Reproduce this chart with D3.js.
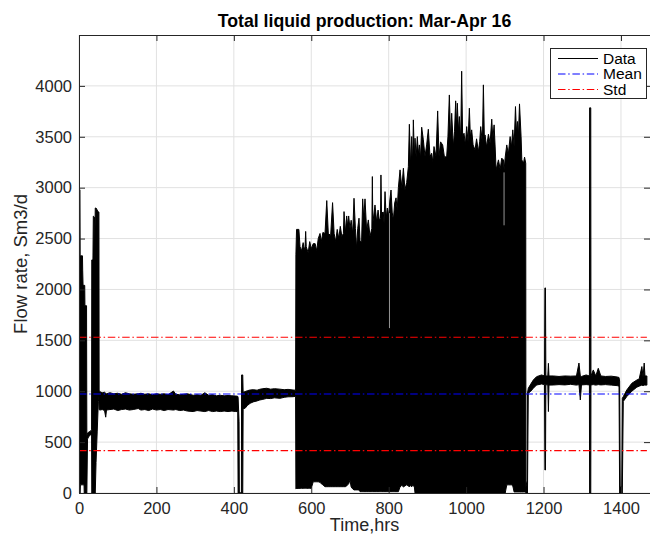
<!DOCTYPE html>
<html><head><meta charset="utf-8">
<script src="https://cdn.jsdelivr.net/npm/d3@7"></script>
<style>
body{margin:0;background:#fff;overflow:hidden}
svg{display:block}
text{font-family:"Liberation Sans",Arial,Helvetica,sans-serif}
</style>
</head><body>
<svg id="chart" width="650" height="534"></svg>
<script>
// ---------------- data ----------------
const xTicks = [0, 200, 400, 600, 800, 1000, 1200, 1400];
const yTicks = [0, 500, 1000, 1500, 2000, 2500, 3000, 3500, 4000];
const meanFlow = 973;
const stdLow = 416;
const stdHigh = 1530;
const lineHours = [0, 1467];
const legendLabels = ["Data", "Mean", "Std"];

// rows: [hour, min flow, max flow] envelope of the dense "Data" trace
const startup = [
  [0,0,2980],[1.5,0,2980],[2.5,0,2980],[3.0,0,2330],[3.6,80,2330],[9,80,2330],[9.5,80,2190],
  [10.5,80,2040],[13,80,2040],[13.5,0,2040],[14.8,0,2040],[15.3,0,1840],
  [19.5,0,1840],[20.3,0,560],[22,530,590],[26,560,600],[30,570,610],
  [32.5,580,620],[33,0,2290],[36,0,2290],[37,0,2720],[40,0,2710],[41,0,2490],
  [42,0,2800],[44,300,2800],[47,600,2780],[50,900,2760],[51.5,940,2760],
  [52,820,1010]
];
const steadyBand = [
  [54,815,995],[60,820,985],[66,810,990],[69,745,980],[71,815,975],[80,820,985],
  [90,825,975],[100,810,980],[110,820,970],[120,825,985],[130,815,975],
  [140,820,970],[153,830,975],[160,815,980],[170,820,970],[180,810,975],
  [190,825,965],[200,815,975],[210,820,970],[220,810,975],[230,820,965],
  [244,815,1002],[250,820,970],[260,810,965],[270,815,970],[280,805,975],
  [295,800,960],[305,810,965],[315,805,960],[325,800,985],[335,810,960],
  [345,800,965],[355,805,955],[365,800,960],[375,805,955],[385,800,958],
  [395,805,955],[405,800,953],[410,800,950],[411,0,940],[413.5,0,700],
  [414.2,0,0],[419.5,0,0],[420,0,1160],[423,0,1160],[424,830,990]
];
const recovery = [
  [429,832,996],[435,860,1005],[442,881,1012],[450,895,1015],[460,905,1010],
  [467,914,1019],[475,920,1025],[485,930,1029],[495,928,1020],[505,935,1025],
  [519,930,1020],[530,940,1015],[540,945,1018],[553,946,1012],[559.5,950,1010]
];
const slugging = [
  [560.3,40,2340],[562,45,2590],[568,45,2590],[571,46,2420],[575,46,2380],
  [579,46,2460],[582,46,2390],[584,46,2420],[585.5,46,2570],[587,46,2420],
  [592,46,2360],[596,46,2470],[600,46,2400],[605,110,2450],[610,110,2450],
  [614,110,2380],[618,110,2500],[622.6,105,2550],[626,90,2470],[630,80,2560],
  [635.5,62,2550],[640,62,2873],[644,62,2550],[650,62,2530],[655,62,2853],
  [659,62,2550],[663,62,2470],[667,62,2590],[671,62,2500],[675,62,2620],
  [679,62,2520],[683,62,2550],[684.6,62,2765],[688,62,2560],[691.5,70,2722],
  [694,80,2620],[696.6,90,2722],[700,127,2600],[703,60,2680],[707,40,2550],
  [710.4,30,2896],[714,30,2600],[717.3,30,2400],[720,30,2600],[723.3,30,2700],
  [726,13,2470],[730,13,2470],[732.8,13,2890],[735.5,13,2700],[738.8,13,2890],
  [743,13,2580],[747.4,13,2683],[751.7,13,2520],[756.5,13,2600],[757.8,13,3109],
  [759,13,2650],[764.6,13,2830],[769,13,2660],[772.5,13,2780],[775.8,13,2680],
  [778.8,13,2700],[780,13,3125],[781.5,13,2750],[786,13,2760],[788,13,2650],
  [790.5,13,2961],[793.5,13,2700],[796.5,13,2800],[800,13,2720],[803,13,2880],
  [806,13,2977],[809,13,2760],[812,13,2680],[815.5,13,2850],[819,13,2900],
  [822,13,2780],[825,13,3000],[829.3,60,3175],[834,75,3000],[838,60,3191],
  [842,70,2980],[846.5,80,3050],[850.8,70,3207],[853.4,60,3623],[856.8,75,3207],
  [859.4,60,3502],[862,80,3240],[863.7,70,3666],[866.3,60,3306],[868,0,3486],
  [871,0,3300],[874,0,3502],[876.5,0,3330],[879.2,0,3420],[882,0,3280],
  [885.2,0,3594],[889.5,0,3470],[893.8,0,3306],[898,0,3420],[902.4,0,3574],
  [906.7,0,3306],[911,0,3338],[914,0,3250],[917,0,3404],[922.2,0,3306],
  [926.5,0,3754],[930,0,3306],[934,0,3450],[939.4,0,3420],[944,0,3300],
  [949.8,0,3306],[953,0,3500],[956.7,0,3911],[960,0,3470],[962.7,0,3731],
  [967,0,3404],[970,0,3550],[973,0,3853],[975,0,3600],[977.3,0,3830],
  [980,0,3560],[982.5,0,3699],[986,0,3470],[988.5,0,4144],[991,0,3502],
  [994.6,0,3535],[998,0,3420],[1001.5,0,3600],[1005,0,3450],[1008.4,0,3781],
  [1011,0,3500],[1014.4,0,3568],[1018,0,3420],[1023,0,3371],[1027,0,3480],
  [1031.7,0,3355],[1035,0,3450],[1037.7,0,3600],[1042,0,3437],[1044.6,0,4010],
  [1047,0,3502],[1049,0,3518],[1053,0,3400],[1057.6,0,3525],[1062,0,3437],
  [1066.2,0,3673],[1069,0,3480],[1072.3,0,3617],[1075,0,3400],[1077.4,0,3175],
  [1083.5,0,3273],[1088,0,3180],[1092,0,3290],[1096.4,0,3273],[1098.2,0,3175],
  [1101,0,3300],[1105,80,3420],[1109,80,3330],[1113.7,80,3502],[1117,80,3400],
  [1120.6,70,3568],[1124,10,3404],[1127.5,10,3797],[1130,10,3550],
  [1132.7,10,3650],[1135,10,3500],[1137.9,10,3823],[1142,10,3502],
  [1143.9,10,3273],[1148.2,10,3240],[1151,10,3300],[1154,10,3240]
];
const restart = [
  [1154.5,0,60],[1157.5,0,120],[1158.5,0,980],[1160.6,980,1029],[1167,1000,1070],
  [1173.6,1029,1110],[1182,1061,1143],[1195,1071,1160],[1202.5,1065,1150],
  [1203.5,226,2015],[1205,226,2015],[1206,1065,1150],[1211,1060,1150],
  [1212.6,800,1274],[1214,1060,1150],[1225,1061,1150],[1240,1065,1145],
  [1255,1062,1150],[1270,1068,1148],[1285,1060,1150],[1291.5,1065,1277],
  [1295,914,1150],[1298,1062,1145],[1310,1065,1160],[1318.5,1062,1150],
  [1319,0,3784],[1322,0,3784],[1322.5,1062,1150],[1328.5,1065,1209],
  [1335,1060,1150],[1341.4,1065,1225],[1348,1062,1150],[1360,1065,1145],
  [1375,1060,1148],[1390,1055,1140],[1395,1050,1135],[1396.5,0,1100],
  [1398,0,60],[1402,0,60],[1403.5,0,930],[1406,900,947],[1415,947,1012],
  [1428,1000,1078],[1441,1040,1110],[1447,1050,1120],[1454,1060,1242],
  [1457,1055,1140],[1460,1060,1277],[1462,1060,1150],[1467,1060,1150]
];
// thin gaps (missing samples) visible as light slivers inside the dense block
const gapHours = [802, 1098];
const gapTop = [2750, 3150];
const gapBottom = [1620, 2630];

// ---------------- layout ----------------
const svg = d3.select("#chart");
const L = 79, R = 650, T = 35, B = 493;
const x = d3.scaleLinear().domain([0, 1475]).range([L, R]);
const y = d3.scaleLinear().domain([0, 4500]).range([B, T]);
const axisCol = "#262626";

svg.append("defs").append("clipPath").attr("id", "plotClip")
  .append("rect").attr("x", L).attr("y", T).attr("width", R - L).attr("height", B - T);

// grid
const grid = svg.append("g");
grid.selectAll(".gx").data(xTicks).join("line")
  .attr("x1", d => x(d)).attr("x2", d => x(d)).attr("y1", T).attr("y2", B)
  .attr("stroke", "#e1e1e1").attr("stroke-width", 1);
grid.selectAll(".gy").data(yTicks).join("line")
  .attr("y1", d => y(d)).attr("y2", d => y(d)).attr("x1", L).attr("x2", R)
  .attr("stroke", "#e1e1e1").attr("stroke-width", 1);

// data envelope
const rows = [].concat(startup, steadyBand, recovery, slugging, restart);
const area = d3.area().x(d => x(d[0])).y0(d => y(d[1])).y1(d => y(d[2]));
const plot = svg.append("g").attr("clip-path", "url(#plotClip)");
plot.append("path").datum(rows).attr("d", area)
  .attr("fill", "#000").attr("stroke", "#000").attr("stroke-width", 1)
  .attr("stroke-linejoin", "round");
plot.selectAll(".gap").data(gapHours).join("line")
  .attr("x1", d => x(d)).attr("x2", d => x(d))
  .attr("y1", (d, i) => y(gapTop[i])).attr("y2", (d, i) => y(gapBottom[i]))
  .attr("stroke", "#bbbbbb").attr("stroke-width", 0.8);

// mean and std lines
const dashDot = "7.5,2.7,1.5,2.7";
const hline = (v, col) => plot.append("line")
  .attr("x1", x(lineHours[0])).attr("x2", x(lineHours[1]))
  .attr("y1", y(v)).attr("y2", y(v))
  .attr("stroke", col).attr("stroke-width", 1.1).attr("stroke-dasharray", dashDot);
hline(meanFlow, "#0000ff");
hline(stdHigh, "#ff0000");
hline(stdLow, "#ff0000");

// axes
const fs = "16.5px";
const fmt = d3.format("d");
const gx = svg.append("g").attr("transform", `translate(0,${B})`)
  .call(d3.axisBottom(x).tickValues(xTicks).tickFormat(fmt).tickSizeInner(-6).tickSizeOuter(0).tickPadding(9));
const gy = svg.append("g").attr("transform", `translate(${L},0)`)
  .call(d3.axisLeft(y).tickValues(yTicks).tickFormat(fmt).tickSizeInner(-6).tickSizeOuter(0).tickPadding(7));
const gt = svg.append("g").attr("transform", `translate(0,${T})`)
  .call(d3.axisTop(x).tickValues(xTicks).tickSizeInner(-6).tickSizeOuter(0).tickFormat(""));
const gr = svg.append("g").attr("transform", `translate(${R},0)`)
  .call(d3.axisRight(y).tickValues(yTicks).tickSizeInner(-6).tickSizeOuter(0).tickFormat(""));
[gx, gy, gt, gr].forEach(g => {
  g.select(".domain").attr("stroke", axisCol).attr("stroke-width", 1);
  g.selectAll(".tick line").attr("stroke", axisCol).attr("stroke-width", 1);
  g.selectAll(".tick text").attr("fill", axisCol).style("font-size", fs)
    .style("font-family", '"Liberation Sans",Arial,Helvetica,sans-serif');
});

// title & labels
svg.append("text").attr("x", (L + R) / 2).attr("y", 27).attr("text-anchor", "middle")
  .style("font-size", "17.7px").style("font-weight", "bold").attr("fill", "#000")
  .text("Total liquid production: Mar-Apr 16");
svg.append("text").attr("x", (L + R) / 2).attr("y", 531).attr("text-anchor", "middle")
  .style("font-size", "18px").attr("fill", axisCol).text("Time,hrs");
svg.append("text").attr("transform", `translate(27,${(T + B) / 2}) rotate(-90)`)
  .attr("text-anchor", "middle").style("font-size", "18.5px").attr("fill", axisCol)
  .text("Flow rate, Sm3/d");

// legend
const lg = svg.append("g");
lg.append("rect").attr("x", 550.5).attr("y", 48.5).attr("width", 96).attr("height", 50)
  .attr("fill", "#fff").attr("stroke", axisCol).attr("stroke-width", 1);
const legendStyles = [
  {col: "#000", dash: null},
  {col: "#0000ff", dash: dashDot},
  {col: "#ff0000", dash: dashDot}
];
legendLabels.forEach((lab, i) => {
  const ly = 58.5 + i * 15.5;
  const ln = lg.append("line").attr("x1", 558).attr("x2", 598).attr("y1", ly).attr("y2", ly)
    .attr("stroke", legendStyles[i].col).attr("stroke-width", 1.1);
  if (legendStyles[i].dash) ln.attr("stroke-dasharray", legendStyles[i].dash);
  lg.append("text").attr("x", 603).attr("y", ly + 5.3).style("font-size", "15.5px")
    .attr("fill", "#000").text(lab);
});
</script>
</body></html>
